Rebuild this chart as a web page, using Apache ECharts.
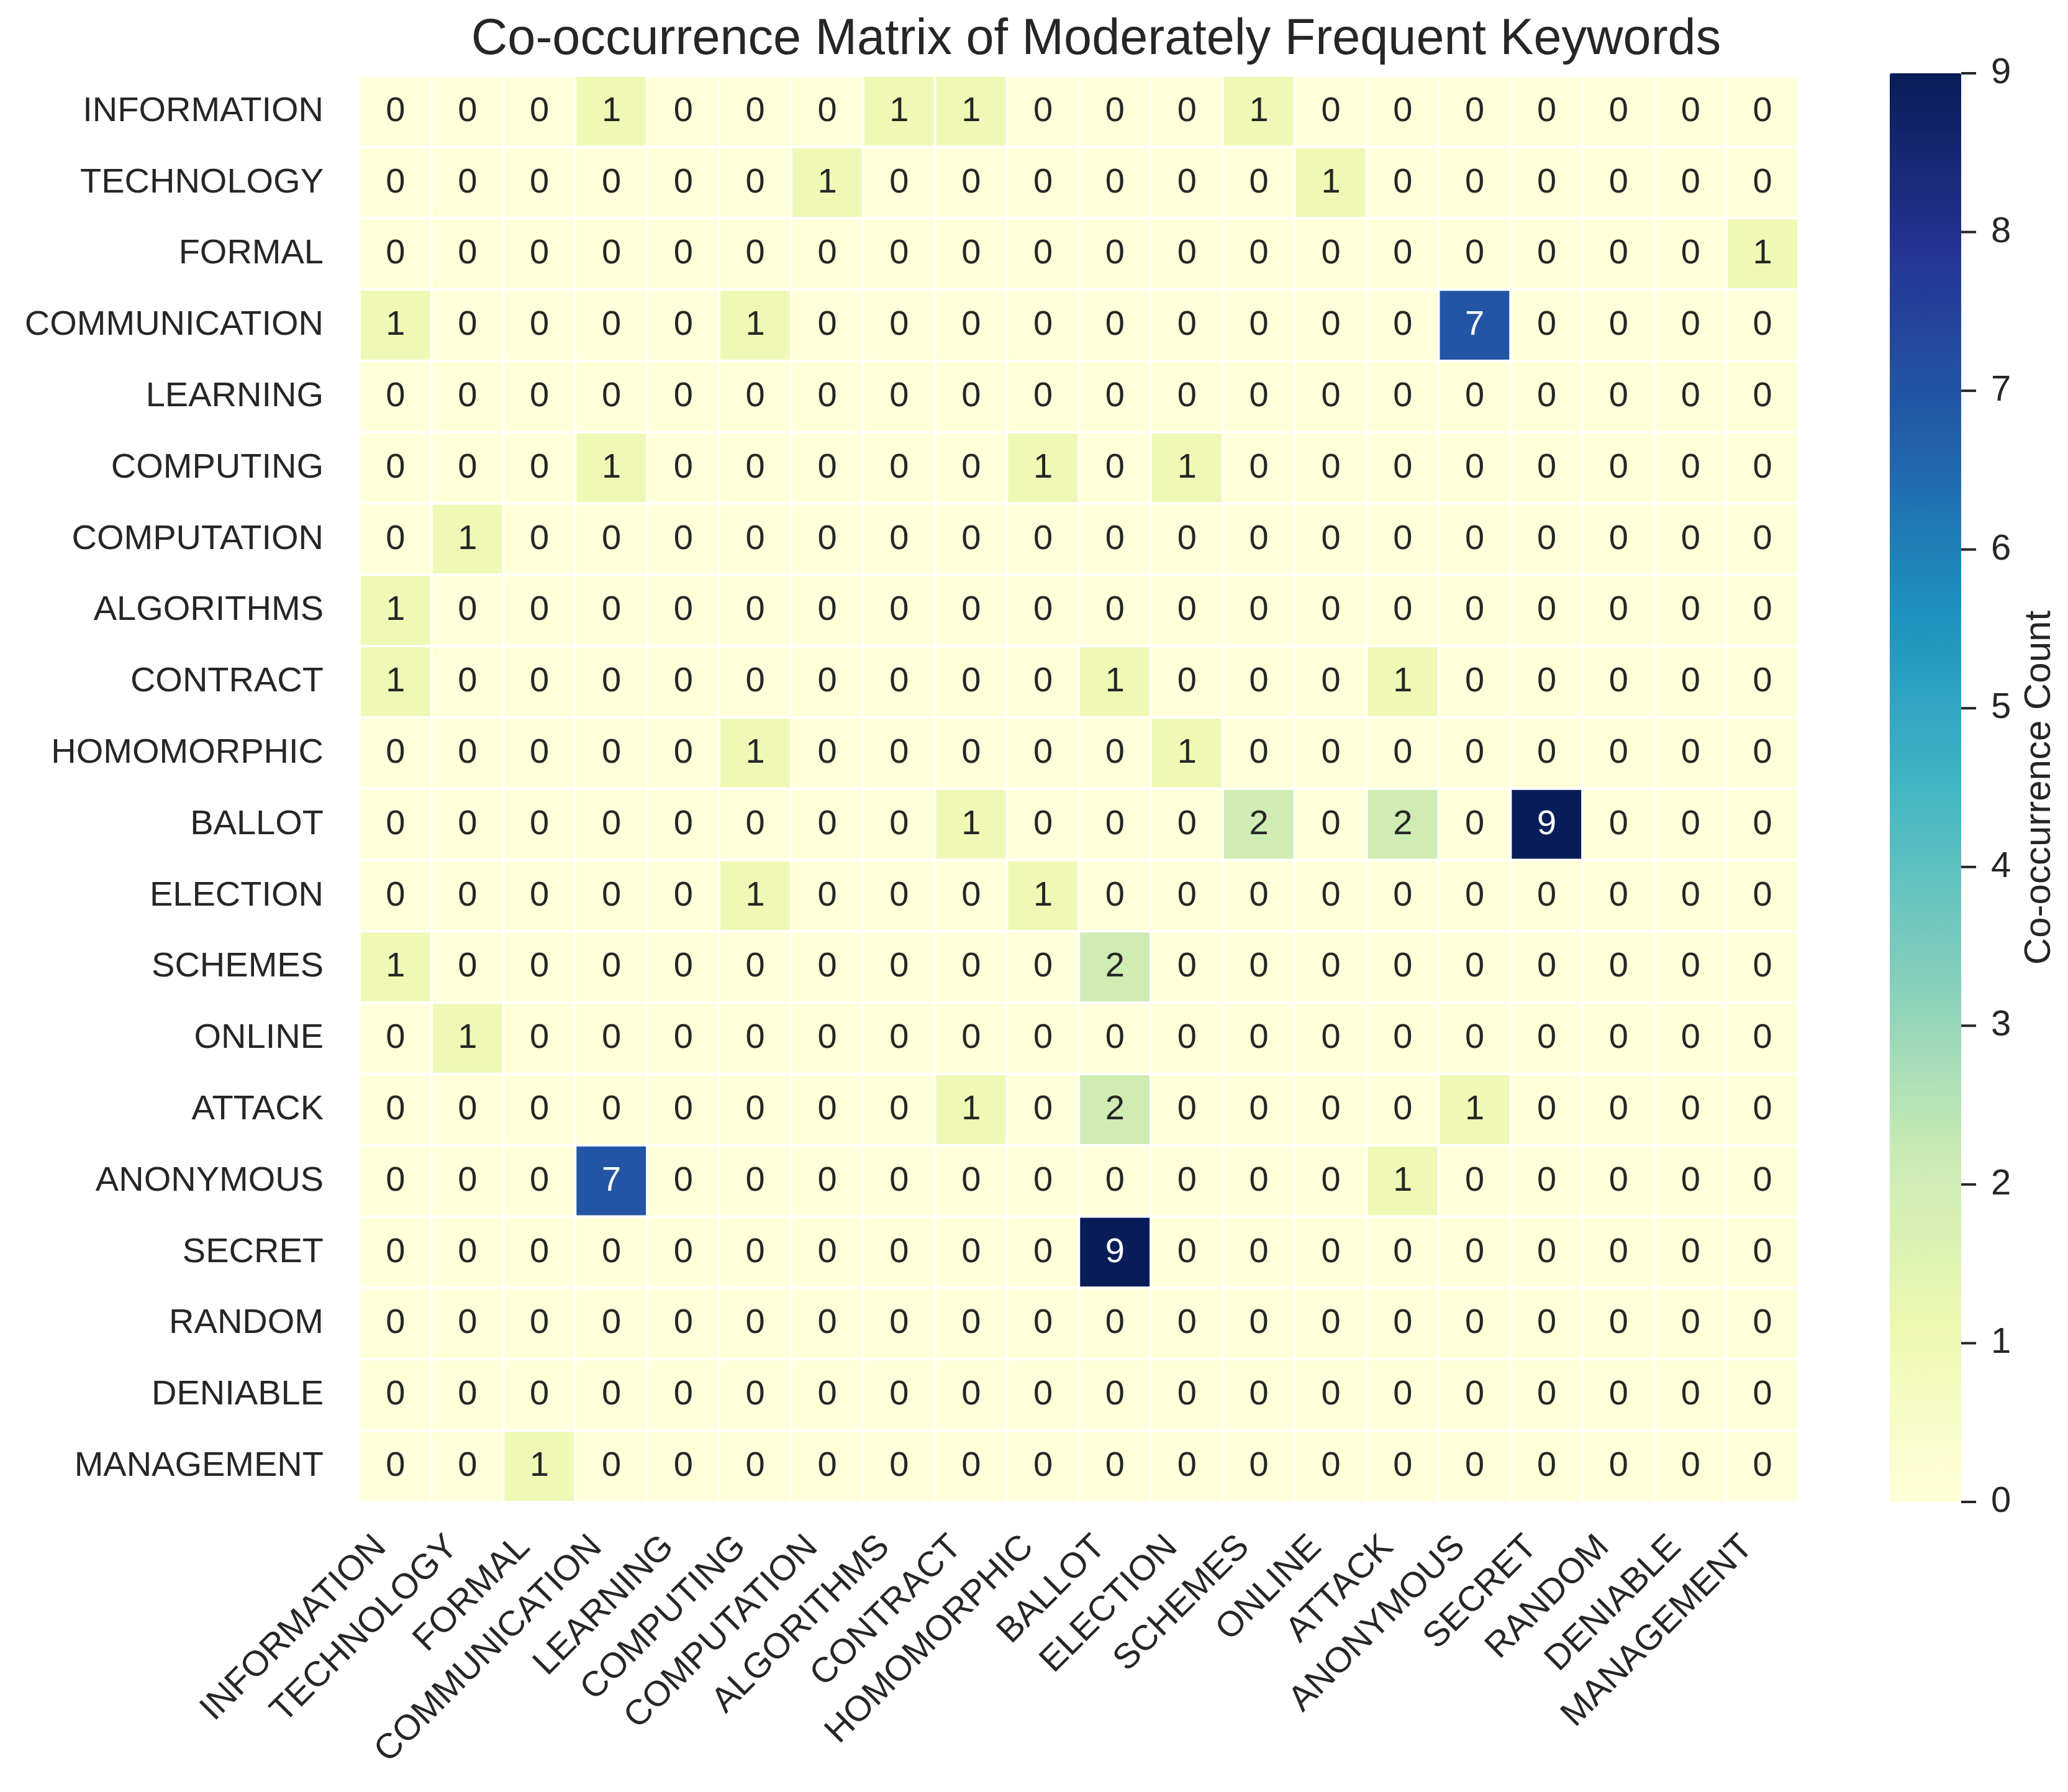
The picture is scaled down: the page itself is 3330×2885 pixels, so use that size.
<!DOCTYPE html>
<html>
<head>
<meta charset="utf-8">
<script src="https://cdn.jsdelivr.net/npm/echarts@6/dist/echarts.min.js"></script>
<style>
html,body{margin:0;padding:0;background:#fff;}
#chart{width:3330px;height:2885px;}
</style>
</head>
<body>
<div id="chart"></div>
<script>
// ---- data ----
var keywords = ['INFORMATION','TECHNOLOGY','FORMAL','COMMUNICATION','LEARNING','COMPUTING','COMPUTATION','ALGORITHMS','CONTRACT','HOMOMORPHIC','BALLOT','ELECTION','SCHEMES','ONLINE','ATTACK','ANONYMOUS','SECRET','RANDOM','DENIABLE','MANAGEMENT'];
var rowINFORMATION   = [0,0,0,1,0,0,0,1,1,0,0,0,1,0,0,0,0,0,0,0];
var rowTECHNOLOGY    = [0,0,0,0,0,0,1,0,0,0,0,0,0,1,0,0,0,0,0,0];
var rowFORMAL        = [0,0,0,0,0,0,0,0,0,0,0,0,0,0,0,0,0,0,0,1];
var rowCOMMUNICATION = [1,0,0,0,0,1,0,0,0,0,0,0,0,0,0,7,0,0,0,0];
var rowLEARNING      = [0,0,0,0,0,0,0,0,0,0,0,0,0,0,0,0,0,0,0,0];
var rowCOMPUTING     = [0,0,0,1,0,0,0,0,0,1,0,1,0,0,0,0,0,0,0,0];
var rowCOMPUTATION   = [0,1,0,0,0,0,0,0,0,0,0,0,0,0,0,0,0,0,0,0];
var rowALGORITHMS    = [1,0,0,0,0,0,0,0,0,0,0,0,0,0,0,0,0,0,0,0];
var rowCONTRACT      = [1,0,0,0,0,0,0,0,0,0,1,0,0,0,1,0,0,0,0,0];
var rowHOMOMORPHIC   = [0,0,0,0,0,1,0,0,0,0,0,1,0,0,0,0,0,0,0,0];
var rowBALLOT        = [0,0,0,0,0,0,0,0,1,0,0,0,2,0,2,0,9,0,0,0];
var rowELECTION      = [0,0,0,0,0,1,0,0,0,1,0,0,0,0,0,0,0,0,0,0];
var rowSCHEMES       = [1,0,0,0,0,0,0,0,0,0,2,0,0,0,0,0,0,0,0,0];
var rowONLINE        = [0,1,0,0,0,0,0,0,0,0,0,0,0,0,0,0,0,0,0,0];
var rowATTACK        = [0,0,0,0,0,0,0,0,1,0,2,0,0,0,0,1,0,0,0,0];
var rowANONYMOUS     = [0,0,0,7,0,0,0,0,0,0,0,0,0,0,1,0,0,0,0,0];
var rowSECRET        = [0,0,0,0,0,0,0,0,0,0,9,0,0,0,0,0,0,0,0,0];
var rowRANDOM        = [0,0,0,0,0,0,0,0,0,0,0,0,0,0,0,0,0,0,0,0];
var rowDENIABLE      = [0,0,0,0,0,0,0,0,0,0,0,0,0,0,0,0,0,0,0,0];
var rowMANAGEMENT    = [0,0,1,0,0,0,0,0,0,0,0,0,0,0,0,0,0,0,0,0];
var colorbarTicks = [0,1,2,3,4,5,6,7,8,9];
var titleText = 'Co-occurrence Matrix of Moderately Frequent Keywords';
var colorbarLabel = 'Co-occurrence Count';

var matrix = [rowINFORMATION,rowTECHNOLOGY,rowFORMAL,rowCOMMUNICATION,rowLEARNING,rowCOMPUTING,rowCOMPUTATION,rowALGORITHMS,rowCONTRACT,rowHOMOMORPHIC,rowBALLOT,rowELECTION,rowSCHEMES,rowONLINE,rowATTACK,rowANONYMOUS,rowSECRET,rowRANDOM,rowDENIABLE,rowMANAGEMENT];

var FONT = "'Liberation Sans', Arial, sans-serif";
var TXT = '#262626';
var ylgnbu = ['#ffffd9','#edf8b1','#c7e9b4','#7fcdbb','#41b6c4','#1d91c0','#225ea8','#253494','#081d58'];

var cells = [];
for (var r = 0; r < matrix.length; r++) {
  for (var c = 0; c < matrix[r].length; c++) {
    var v = matrix[r][c];
    cells.push({value: [c, r, v], label: {color: v >= 5 ? '#ffffff' : TXT}});
  }
}
var tickSegs = colorbarTicks.map(function (t) { return [t]; });

var chart = echarts.init(document.getElementById('chart'), null, {renderer: 'canvas'});
chart.setOption({
  backgroundColor: '#ffffff',
  animation: false,
  title: {
    text: titleText,
    left: 1765,
    top: 24,
    padding: 0,
    textAlign: 'center',
    textStyle: {fontFamily: FONT, fontSize: 81, fontWeight: 'normal', color: TXT}
  },
  grid: [
    {left: 579, top: 122, width: 2317, height: 2296, containLabel: false},
    {left: 3043, top: 118, width: 115, height: 2300, containLabel: false}
  ],
  xAxis: [
    {
      type: 'category', data: keywords, gridIndex: 0, position: 'bottom',
      axisLine: {show: false}, axisTick: {show: false}, splitLine: {show: false},
      axisLabel: {interval: 0, rotate: 45, margin: 40, padding: [0, 34, 0, 0],
        fontFamily: FONT, fontSize: 57, color: TXT}
    },
    {type: 'value', gridIndex: 1, show: false, min: 0, max: 1}
  ],
  yAxis: [
    {
      type: 'category', data: keywords, gridIndex: 0, inverse: true,
      axisLine: {show: false}, axisTick: {show: false}, splitLine: {show: false},
      axisLabel: {interval: 0, margin: 58, fontFamily: FONT, fontSize: 56, color: TXT}
    },
    {
      type: 'value', gridIndex: 1, position: 'right', min: colorbarTicks[0], max: colorbarTicks[colorbarTicks.length - 1], interval: 1,
      axisLine: {show: false},
      axisTick: {show: false},
      splitLine: {show: false},
      axisLabel: {show: true, margin: 48, fontFamily: FONT, fontSize: 58, color: TXT},
      name: colorbarLabel, nameLocation: 'middle', nameRotate: 90, nameGap: 96,
      nameTextStyle: {fontFamily: FONT, fontSize: 60, color: TXT}
    }
  ],
  visualMap: {
    type: 'continuous', min: 0, max: 9, calculable: false, seriesIndex: 0,
    inRange: {color: ylgnbu},
    orient: 'vertical', left: 3043, top: 118, itemWidth: 115, itemHeight: 2300,
    padding: 0, text: null, showLabel: false, hoverLink: false, z: 1
  },
  series: [{
    type: 'heatmap', xAxisIndex: 0, yAxisIndex: 0,
    data: cells,
    itemStyle: {borderColor: '#ffffff', borderWidth: 4},
    label: {show: true, fontFamily: FONT, fontSize: 56,
      formatter: function (p) { return p.value[2]; }},
    emphasis: {disabled: true}
  }, {
    type: 'custom', xAxisIndex: 1, yAxisIndex: 1, silent: true, z: 10,
    data: tickSegs,
    clip: false,
    renderItem: function (params, api) {
      var p = api.coord([1, api.value(0)]);
      return {type: 'line', shape: {x1: p[0], y1: p[1], x2: p[0] + 24, y2: p[1]},
        style: {stroke: TXT, lineWidth: 4}};
    }
  }]
});
</script>
</body>
</html>
